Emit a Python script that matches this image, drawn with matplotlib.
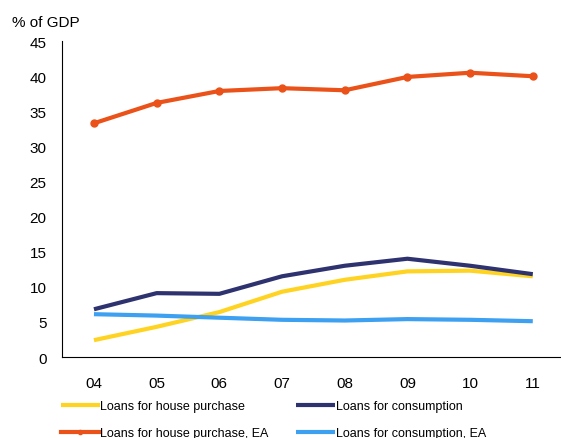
import numpy as np
import matplotlib.pyplot as plt

plt.rcParams['font.family'] = ['Liberation Sans', 'DejaVu Sans']

years = ['04', '05', '06', '07', '08', '09', '10', '11']
house = [2.4, 4.3, 6.4, 9.3, 11.0, 12.2, 12.3, 11.5]
consumption = [6.8, 9.1, 9.0, 11.5, 13.0, 14.0, 13.0, 11.8]
house_ea = [33.3, 36.2, 37.9, 38.3, 38.0, 39.9, 40.5, 40.0]
consumption_ea = [6.1, 5.9, 5.6, 5.3, 5.2, 5.4, 5.3, 5.1]

fig = plt.figure(figsize=(5.61, 4.39), dpi=100)
ax = fig.add_axes([0.1105, 0.1845, 0.8895, 0.7195])

x = np.arange(len(years))
l1, = ax.plot(x, house, color='#FFD321', lw=3, solid_capstyle='butt')
l2, = ax.plot(x, consumption, color='#2E3370', lw=3, solid_capstyle='butt')
l3, = ax.plot(x, house_ea, color='#EA5219', lw=3, marker='o', ms=5)
l4, = ax.plot(x, consumption_ea, color='#3DA0F0', lw=3, solid_capstyle='butt')

ax.set_xlim(-0.51, 7.45)
ax.set_ylim(0, 45)
ax.set_yticks(range(0, 46, 5))
ax.set_xticks(x)
ax.set_xticklabels(years)
ax.tick_params(length=0, labelsize=11)
ax.tick_params(axis='x', pad=14)
ax.tick_params(axis='y', pad=11)
for s in ['top', 'right']:
    ax.spines[s].set_visible(False)

fig.text(0.021, 0.948, '% of GDP', fontsize=11, va='center')

# column-major order so rows read house / consumption
fig.legend([l1, l3, l2, l4],
           ['Loans for house purchase', 'Loans for house purchase, EA',
            'Loans for consumption', 'Loans for consumption, EA'],
           loc='upper left', bbox_to_anchor=(0.1, 0.098), ncol=2,
           frameon=False, fontsize=9, handlelength=3.1, handletextpad=0.05,
           columnspacing=2.2, labelspacing=1.2, borderaxespad=0, markerscale=0.6)

fig.savefig('out.png', dpi=100)
